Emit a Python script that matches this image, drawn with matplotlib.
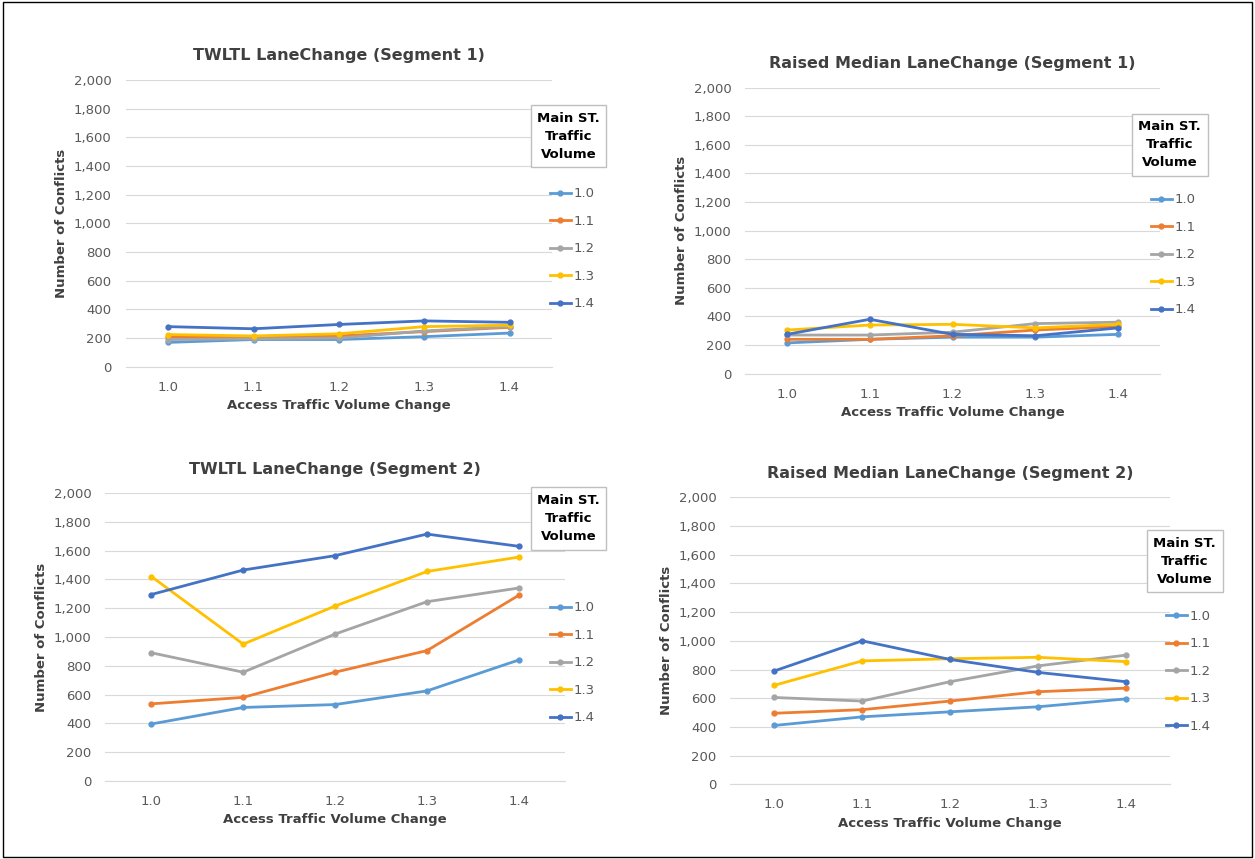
import numpy as np
import matplotlib.pyplot as plt
from matplotlib.ticker import FuncFormatter

cats = ['1.0', '1.1', '1.2', '1.3', '1.4']
series = ['1.0', '1.1', '1.2', '1.3', '1.4']
colors = ['#5b9bd5', '#ed7d31', '#a5a5a5', '#ffc000', '#4472c4']

tl = [[170, 190, 190, 210, 235],
      [210, 205, 215, 245, 275],
      [190, 195, 200, 250, 280],
      [225, 215, 230, 280, 290],
      [280, 265, 295, 320, 310]]
tr = [[215, 240, 255, 255, 275],
      [240, 240, 265, 305, 330],
      [270, 270, 290, 350, 360],
      [305, 340, 345, 320, 345],
      [275, 380, 275, 265, 320]]
bl = [[395, 510, 530, 625, 840],
      [535, 580, 755, 905, 1290],
      [890, 755, 1020, 1245, 1340],
      [1420, 950, 1215, 1455, 1555],
      [1295, 1465, 1565, 1715, 1630]]
br = [[410, 470, 505, 540, 595],
      [495, 520, 580, 645, 670],
      [605, 580, 715, 825, 900],
      [690, 860, 875, 885, 855],
      [790, 1000, 870, 780, 715]]

# title, data, axes rect, (legend box centre x, top y, legend entries top y)
panels = [
    ("TWLTL LaneChange (Segment 1)", tl, [0.10, 0.573, 0.34, 0.334], (0.453, 0.87, 0.782)),
    ("Raised Median LaneChange (Segment 1)", tr, [0.594, 0.565, 0.33, 0.333], (0.932, 0.86, 0.775)),
    ("TWLTL LaneChange (Segment 2)", bl, [0.084, 0.091, 0.366, 0.335], (0.453, 0.425, 0.3)),
    ("Raised Median LaneChange (Segment 2)", br, [0.582, 0.087, 0.35, 0.334], (0.944, 0.375, 0.29)),
]

fig = plt.figure(figsize=(12.55, 8.59), dpi=100)
fig.patches.append(plt.Rectangle((0.002, 0.002), 0.996, 0.996, transform=fig.transFigure,
                                 fill=False, edgecolor='black', linewidth=1))
x = np.arange(len(cats))
for title, data, pos, lp in panels:
    ax = fig.add_axes(pos)
    for s, vals, c in zip(series, data, colors):
        ax.plot(x, vals, color=c, marker='o', markersize=3.5, linewidth=2, label=s)
    ax.set_xlim(-0.5, 4.5)
    ax.set_ylim(0, 2000)
    ax.set_yticks(range(0, 2001, 200))
    ax.yaxis.set_major_formatter(FuncFormatter(lambda v, p: f"{int(v):,}"))
    ax.set_xticks(x)
    ax.set_xticklabels(cats)
    ax.grid(axis='y', color='#d9d9d9', linewidth=0.8)
    ax.set_axisbelow(True)
    for sp in ['top', 'right', 'left']:
        ax.spines[sp].set_visible(False)
    ax.spines['bottom'].set_color('#d9d9d9')
    ax.tick_params(length=0, labelsize=9.5, colors='#595959', pad=10)
    ax.set_title(title, fontsize=11.5, fontweight='bold', color='#404040', pad=14)
    ax.set_xlabel("Access Traffic Volume Change", fontsize=9.5, fontweight='bold', color='#404040')
    ax.set_ylabel("Number of Conflicts", fontsize=9.5, fontweight='bold', color='#404040')
    fig.text(lp[0], lp[1], "Main ST.\nTraffic\nVolume", ha='center', va='top',
             fontsize=9.5, fontweight='bold', color='#000000', linespacing=1.5,
             bbox=dict(boxstyle='square,pad=0.5', facecolor='white', edgecolor='#bfbfbf'))
    leg = ax.legend(loc='upper left', bbox_to_anchor=(lp[0] - 0.015, lp[2]),
                    bbox_transform=fig.transFigure, frameon=False, fontsize=9.5,
                    handlelength=1.6, handletextpad=0.2, labelspacing=1.1,
                    borderaxespad=0, borderpad=0)
    for t in leg.get_texts():
        t.set_color('#595959')

fig.savefig("out.png", dpi=100)
